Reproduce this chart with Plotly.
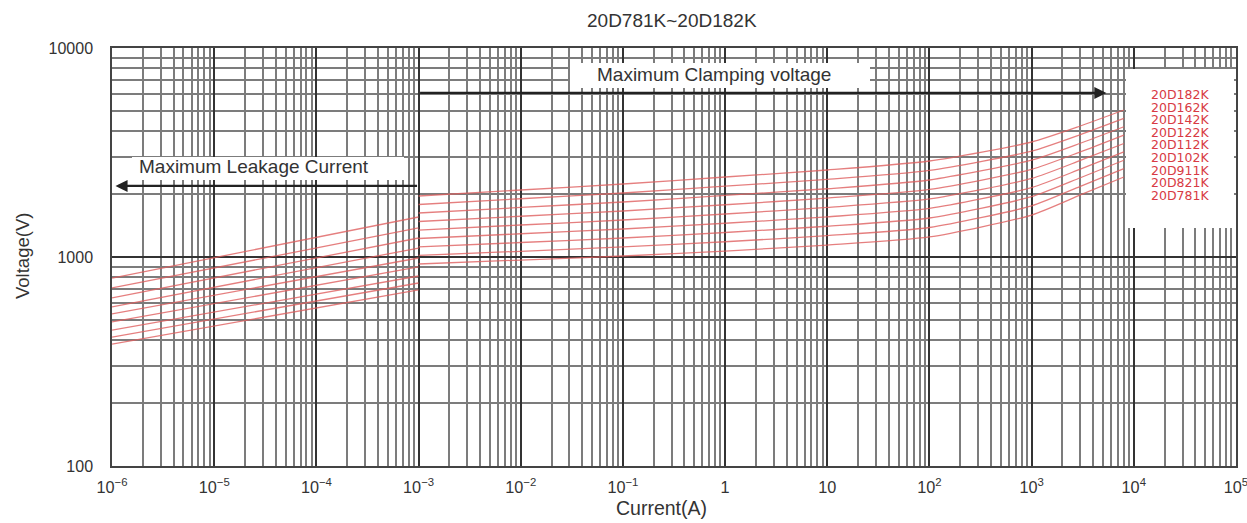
import math
import plotly.graph_objects as go

# ---------------- data ----------------
chart_title = "20D781K~20D182K"
x_title = "Current(A)"
y_title = "Voltage(V)"
series_names = ["20D182K", "20D162K", "20D142K", "20D122K", "20D112K",
                "20D102K", "20D911K", "20D821K", "20D781K"]

y_tick_values = [100, 1000, 10000]
y_tick_labels = ["100", "1000", "10000"]

leak_current = [1e-6, 1e-3]
clamp_current = [1e-3, 1e-2, 1e-1, 1, 10, 100, 1000, 3000, 8000]

leak_182K = [793, 1554]
leak_162K = [711, 1377]
leak_142K = [637, 1233]
leak_122K = [577, 1104]
leak_112K = [534, 989]
leak_102K = [489, 896]
leak_911K = [447, 811]
leak_821K = [414, 751]
leak_781K = [383, 696]

clamp_182K = [1958, 2092, 2235, 2414, 2608, 2880, 3550, 4235, 5050]
clamp_162K = [1783, 1900, 2024, 2181, 2351, 2594, 3212, 3853, 4605]
clamp_142K = [1624, 1726, 1833, 1970, 2121, 2336, 2904, 3501, 4200]
clamp_122K = [1479, 1567, 1660, 1778, 1914, 2104, 2626, 3184, 3832]
clamp_112K = [1346, 1423, 1503, 1606, 1726, 1895, 2375, 2896, 3492]
clamp_102K = [1226, 1292, 1361, 1450, 1556, 1707, 2148, 2634, 3184]
clamp_911K = [1117, 1173, 1233, 1310, 1403, 1537, 1943, 2394, 2904]
clamp_821K = [1017, 1065, 1117, 1183, 1266, 1384, 1756, 2177, 2649]
clamp_781K = [926, 967, 1011, 1068, 1141, 1247, 1588, 1981, 2414]

leak_series = [leak_182K, leak_162K, leak_142K, leak_122K, leak_112K,
               leak_102K, leak_911K, leak_821K, leak_781K]
clamp_series = [clamp_182K, clamp_162K, clamp_142K, clamp_122K, clamp_112K,
                clamp_102K, clamp_911K, clamp_821K, clamp_781K]

leak_label = "Maximum Leakage Current"
clamp_label = "Maximum Clamping voltage"

# ---------------- layout geometry (pixels) ----------------
W, H = 1247, 523
L, R, T, B = 112, 11, 48, 57
PW, PH = W - L - R, H - T - B


def px(xp):
    return (xp - L) / PW


def py(yp):
    return (H - B - yp) / PH


CURVE = "rgba(222,95,95,0.80)"
TXT = "#333333"
FONT = "Liberation Sans, Arial, sans-serif"

fig = go.Figure()
for name, lv, cv in zip(series_names, leak_series, clamp_series):
    fig.add_trace(go.Scatter(x=leak_current, y=lv, mode="lines", name=name,
                             line=dict(color=CURVE, width=1.3), showlegend=False,
                             hoverinfo="skip"))
    fig.add_trace(go.Scatter(x=clamp_current, y=cv, mode="lines", name=name,
                             line=dict(color=CURVE, width=1.3, shape="spline", smoothing=0.6),
                             showlegend=False, hoverinfo="skip"))

fig.update_xaxes(type="log", range=[-6.0005, 5.0005], tickmode="linear", tick0=0, dtick=1,
                 exponentformat="power", showgrid=True, gridcolor="#333333", gridwidth=1.7,
                 minor=dict(dtick="D1", showgrid=True, gridcolor="#7c7c7c", gridwidth=1.5),
                 ticks="", tickfont=dict(size=13, color=TXT, family=FONT),
                 showline=True, linecolor="#444", linewidth=1.5, mirror=True,
                 zeroline=False, ticklabelstandoff=6, automargin=False,
                 ticklabeloverflow="allow")
fig.update_yaxes(type="log", range=[2, 4], tickmode="array", tickvals=y_tick_values,
                 ticktext=y_tick_labels, showgrid=True, gridcolor="#333333", gridwidth=1.7,
                 minor=dict(tickmode="linear", dtick="D1", showgrid=True,
                            gridcolor="#7c7c7c", gridwidth=1.5),
                 ticks="", tickfont=dict(size=16, color=TXT, family=FONT),
                 showline=True, linecolor="#444", linewidth=1.5, mirror=True,
                 zeroline=False, ticklabelstandoff=14, automargin=False,
                 ticklabeloverflow="allow")

shapes = []
annotations = []

# white boxes behind labels
for (x0, x1, y0, y1) in [(1126, W - R - 2, 69, 228), (570, 870, 63, 88), (132, 404, 157, 180)]:
    shapes.append(dict(type="rect", xref="paper", yref="paper", x0=px(x0), x1=px(x1),
                       y0=py(y1), y1=py(y0), fillcolor="white", line=dict(width=0),
                       layer="above"))


# arrows
def arrow(x_from, x_to, yv):
    return dict(xref="x", yref="y", axref="x", ayref="y",
                x=math.log10(x_to), y=math.log10(yv), ax=math.log10(x_from), ay=math.log10(yv),
                text="", showarrow=True, arrowhead=2, arrowsize=1.1, arrowwidth=2.2,
                arrowcolor="#222222", standoff=0, startstandoff=0)


annotations.append(arrow(1e-3, 5400, 6095))
annotations.append(arrow(1e-3, 1.08e-6, 2188))


def label(xp, yp, text, size, color=TXT, family=FONT, angle=0):
    return dict(xref="paper", yref="paper", x=px(xp), y=py(yp), text=text,
                showarrow=False, xanchor="center", yanchor="middle", textangle=angle,
                font=dict(size=size, color=color, family=family))


annotations.append(label(714, 75, clamp_label, 19))
annotations.append(label(254, 166, leak_label, 19))

# legend labels
legend_y0, legend_dy = 94.5, 12.6
for i, name in enumerate(series_names):
    annotations.append(label(1180, legend_y0 + i * legend_dy, name, 12.5,
                             color="#d83a44", family="DejaVu Sans"))

# titles
annotations.append(label(672, 20, chart_title, 19))
annotations.append(label(661, 508, x_title, 19.5))
annotations.append(label(22, 256, y_title, 18.5, angle=-90))

fig.update_layout(width=W, height=H, margin=dict(l=L, r=R, t=T, b=B),
                  paper_bgcolor="white", plot_bgcolor="white",
                  shapes=shapes, annotations=annotations, showlegend=False)

fig.write_html("out.html")
